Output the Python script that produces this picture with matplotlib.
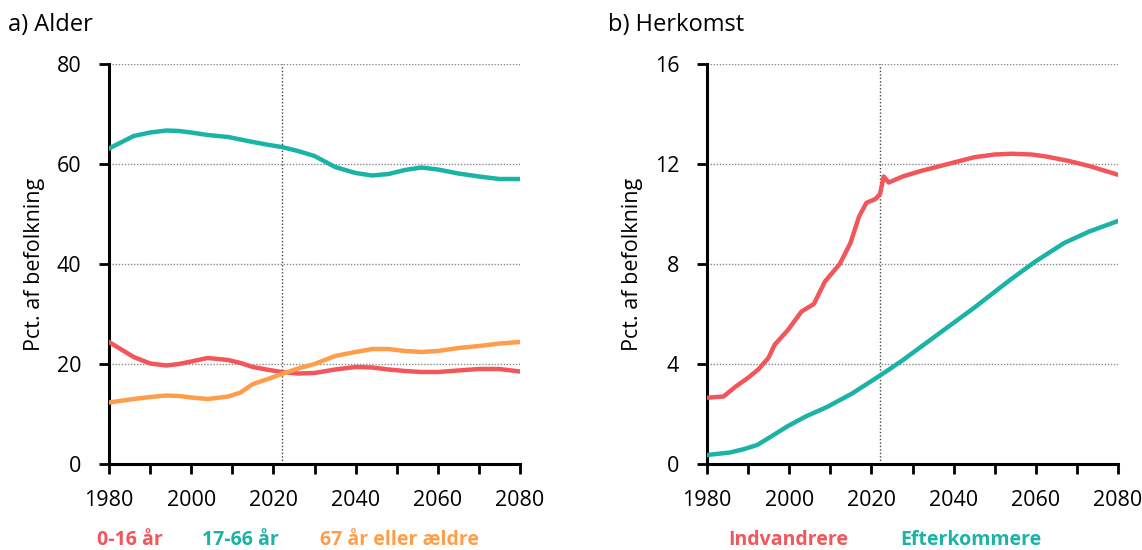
import matplotlib
matplotlib.use('Agg')
import matplotlib.pyplot as plt
from matplotlib.ticker import MultipleLocator

plt.rcParams['font.family'] = ['Open Sans', 'DejaVu Sans']

RED = '#F2555A'
TEAL = '#1AB3A6'
ORANGE = '#FF9E4A'

# a) Alder
age_years = [1980, 1986, 1990, 1994, 1997, 2000, 2004, 2009, 2012, 2015, 2019, 2022,
             2026, 2030, 2035, 2040, 2044, 2048, 2052, 2056, 2060, 2065, 2070, 2075, 2080]
age_0_16 = [24.4, 21.4, 20.1, 19.7, 20.0, 20.5, 21.2, 20.8, 20.2, 19.4, 18.8, 18.4,
            18.1, 18.2, 18.9, 19.4, 19.3, 18.9, 18.6, 18.4, 18.4, 18.7, 19.0, 19.0, 18.5]
age_17_66 = [63.1, 65.6, 66.3, 66.7, 66.6, 66.3, 65.8, 65.4, 64.9, 64.4, 63.8, 63.4,
             62.6, 61.6, 59.4, 58.2, 57.7, 58.0, 58.8, 59.3, 58.9, 58.1, 57.5, 57.0, 57.0]
age_67_plus = [12.3, 13.0, 13.4, 13.7, 13.6, 13.3, 13.0, 13.5, 14.3, 16.0, 17.1, 18.0,
               19.1, 20.0, 21.6, 22.4, 23.0, 23.0, 22.6, 22.4, 22.6, 23.2, 23.6, 24.1, 24.4]

# b) Herkomst
orig_years = [1980, 1984, 1987, 1990, 1992.6, 1995, 1996.5, 1999.6, 2003, 2006, 2008.7,
              2012.3, 2014.9, 2017, 2018.8, 2021, 2022.1, 2023, 2024.2, 2027.6, 2032,
              2036.3, 2041, 2045, 2050, 2054, 2059, 2062.5, 2067.8, 2073, 2080]
indvandrere = [2.65, 2.7, 3.1, 3.45, 3.8, 4.26, 4.78, 5.34, 6.1, 6.4, 7.3,
               8.0, 8.84, 9.9, 10.45, 10.6, 10.8, 11.5, 11.26, 11.5, 11.72,
               11.9, 12.1, 12.27, 12.38, 12.41, 12.38, 12.3, 12.13, 11.92, 11.57]
efter_years = [1980, 1985.6, 1989.1, 1992.2, 1995.2, 1999.6, 2004, 2009.2, 2015.3, 2020.6,
               2023.2, 2027.6, 2036.3, 2045, 2053.8, 2059.9, 2066.9, 2073, 2080]
efterkommere = [0.36, 0.46, 0.6, 0.76, 1.06, 1.51, 1.9, 2.28, 2.82, 3.38,
                3.66, 4.15, 5.2, 6.25, 7.37, 8.1, 8.84, 9.3, 9.72]

SPLIT_YEAR = 2022

fig = plt.figure(figsize=(11.42, 5.5), dpi=100)
ax1 = fig.add_axes([109 / 1142, 1 - 464 / 550, 411 / 1142, 400 / 550])
ax2 = fig.add_axes([707 / 1142, 1 - 464 / 550, 411 / 1142, 400 / 550])


def style_axis(ax, ymax, ystep):
    ax.set_xlim(1980, 2080)
    ax.set_ylim(0, ymax)
    ax.xaxis.set_major_locator(MultipleLocator(20))
    ax.xaxis.set_minor_locator(MultipleLocator(10))
    ax.yaxis.set_major_locator(MultipleLocator(ystep))
    for s in ['top', 'right']:
        ax.spines[s].set_visible(False)
    for s in ['left', 'bottom']:
        ax.spines[s].set_linewidth(2.2)
        ax.spines[s].set_capstyle('projecting')
    ax.tick_params(axis='both', which='both', direction='out', length=7, width=2,
                   labelsize=15.5, color='black')
    ax.tick_params(axis='x', pad=12)
    ax.tick_params(axis='y', pad=13)
    for v in range(ystep, ymax + 1, ystep):
        ax.axhline(v, color='#8a8a8a', linestyle=(0, (1, 1.2)), linewidth=1, zorder=1)
    ax.axvline(SPLIT_YEAR, color='#444444', linestyle=(0, (1, 1.5)), linewidth=1, zorder=1)
    ax.set_ylabel('Pct. af befolkning', fontsize=15.5)
    ax.yaxis.set_label_coords(-0.155, 0.5)


style_axis(ax1, 80, 20)
ax1.plot(age_years, age_17_66, color=TEAL, linewidth=3.2, zorder=3)
ax1.plot(age_years, age_0_16, color=RED, linewidth=3.2, zorder=3)
ax1.plot(age_years, age_67_plus, color=ORANGE, linewidth=3.2, zorder=3)

style_axis(ax2, 16, 4)
ax2.plot(orig_years, indvandrere, color=RED, linewidth=3.2, zorder=3)
ax2.plot(efter_years, efterkommere, color=TEAL, linewidth=3.2, zorder=3)

fig.text(8 / 1142, 1 - 25 / 550, 'a) Alder', fontsize=17, va='center', ha='left')
fig.text(608 / 1142, 1 - 25 / 550, 'b) Herkomst', fontsize=17, va='center', ha='left')

legend_y = 1 - 540 / 550
for label, color, xc in [('0-16 år', RED, 130), ('17-66 år', TEAL, 240),
                         ('67 år eller ældre', ORANGE, 399),
                         ('Indvandrere', RED, 788), ('Efterkommere', TEAL, 971)]:
    fig.text(xc / 1142, legend_y, label, color=color, fontsize=14, fontweight='bold',
             ha='center', va='center')

fig.savefig('out.png', dpi=100)
